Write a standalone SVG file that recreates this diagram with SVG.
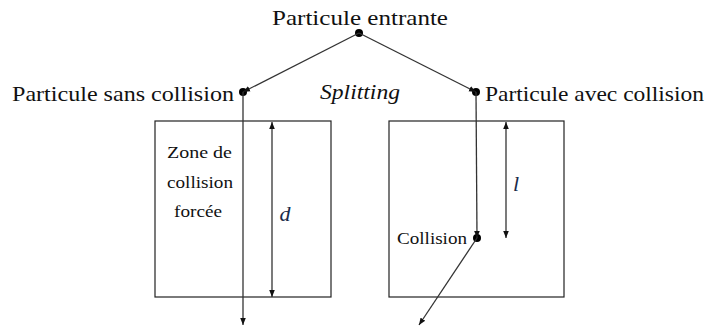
<svg xmlns="http://www.w3.org/2000/svg" width="706" height="327" viewBox="0 0 706 327">
<style>
.ln{stroke:#333;stroke-width:1.3;fill:none}
.box{stroke:#222;stroke-width:1.2;fill:none}
</style>
<defs>
<marker id="ah" viewBox="0 0 10 10" refX="10" refY="5" markerWidth="7" markerHeight="7" orient="auto" markerUnits="userSpaceOnUse">
<path d="M0,1 L10,5 L0,9 z" fill="#111"/>
</marker>
</defs>
<rect width="706" height="327" fill="#fff"/>
<g id="zone-gauche"><rect class="box" x="155" y="121" width="176" height="176"/>
<text x="167" y="158" font-size="16" font-family="Liberation Serif" fill="#111" textLength="65" lengthAdjust="spacingAndGlyphs">Zone de</text>
<text x="167" y="188" font-size="16" font-family="Liberation Serif" fill="#111" textLength="66" lengthAdjust="spacingAndGlyphs">collision</text>
<text x="174" y="217" font-size="16" font-family="Liberation Serif" fill="#111" textLength="48" lengthAdjust="spacingAndGlyphs">forc&#233;e</text></g>
<g id="zone-droite"><rect class="box" x="389" y="121" width="175" height="176"/></g>
<g id="entrante"><circle cx="359" cy="33" r="4" fill="#000"/><text x="272" y="25" font-size="22" font-family="Liberation Serif" fill="#111" textLength="176" lengthAdjust="spacingAndGlyphs">Particule entrante</text></g>
<g id="sans"><circle cx="243" cy="92" r="4" fill="#000"/><text x="12" y="101" font-size="22" font-family="Liberation Serif" fill="#111" textLength="222" lengthAdjust="spacingAndGlyphs">Particule sans collision</text></g>
<g id="avec"><circle cx="476" cy="92" r="4" fill="#000"/><text x="485" y="101" font-size="22" font-family="Liberation Serif" fill="#111" textLength="219" lengthAdjust="spacingAndGlyphs">Particule avec collision</text></g>
<g id="collision"><circle cx="477" cy="238" r="4" fill="#000"/><text x="397" y="244" font-size="16" font-family="Liberation Serif" fill="#111" textLength="70" lengthAdjust="spacingAndGlyphs">Collision</text></g>
<g id="labels">
<text x="320" y="99" font-size="22" font-family="Liberation Serif" font-style="italic" fill="#111" textLength="80" lengthAdjust="spacingAndGlyphs">Splitting</text>
<text x="285" y="221" font-size="22" font-family="Liberation Serif" font-style="italic" fill="#1a2a4a" text-anchor="middle">d</text>
<text x="516" y="191" font-size="22" font-family="Liberation Serif" font-style="italic" fill="#1a2a4a" text-anchor="middle">l</text>
</g>
<g id="connecteurs">
<line class="ln" x1="359" y1="33" x2="243" y2="92" marker-end="url(#ah)"/>
<line class="ln" x1="359" y1="33" x2="476" y2="92" marker-end="url(#ah)"/>
<line class="ln" x1="243" y1="92" x2="243" y2="325" marker-end="url(#ah)"/>
<line class="ln" x1="476" y1="92" x2="477" y2="238" marker-end="url(#ah)"/>
<line class="ln" x1="477" y1="238" x2="419" y2="325" marker-end="url(#ah)"/>
<line class="ln" x1="272" y1="210" x2="272" y2="122" marker-end="url(#ah)"/>
<line class="ln" x1="272" y1="210" x2="272" y2="297" marker-end="url(#ah)"/>
<line class="ln" x1="506" y1="180" x2="506" y2="122" marker-end="url(#ah)"/>
<line class="ln" x1="506" y1="180" x2="506" y2="238" marker-end="url(#ah)"/>
</g>
</svg>
